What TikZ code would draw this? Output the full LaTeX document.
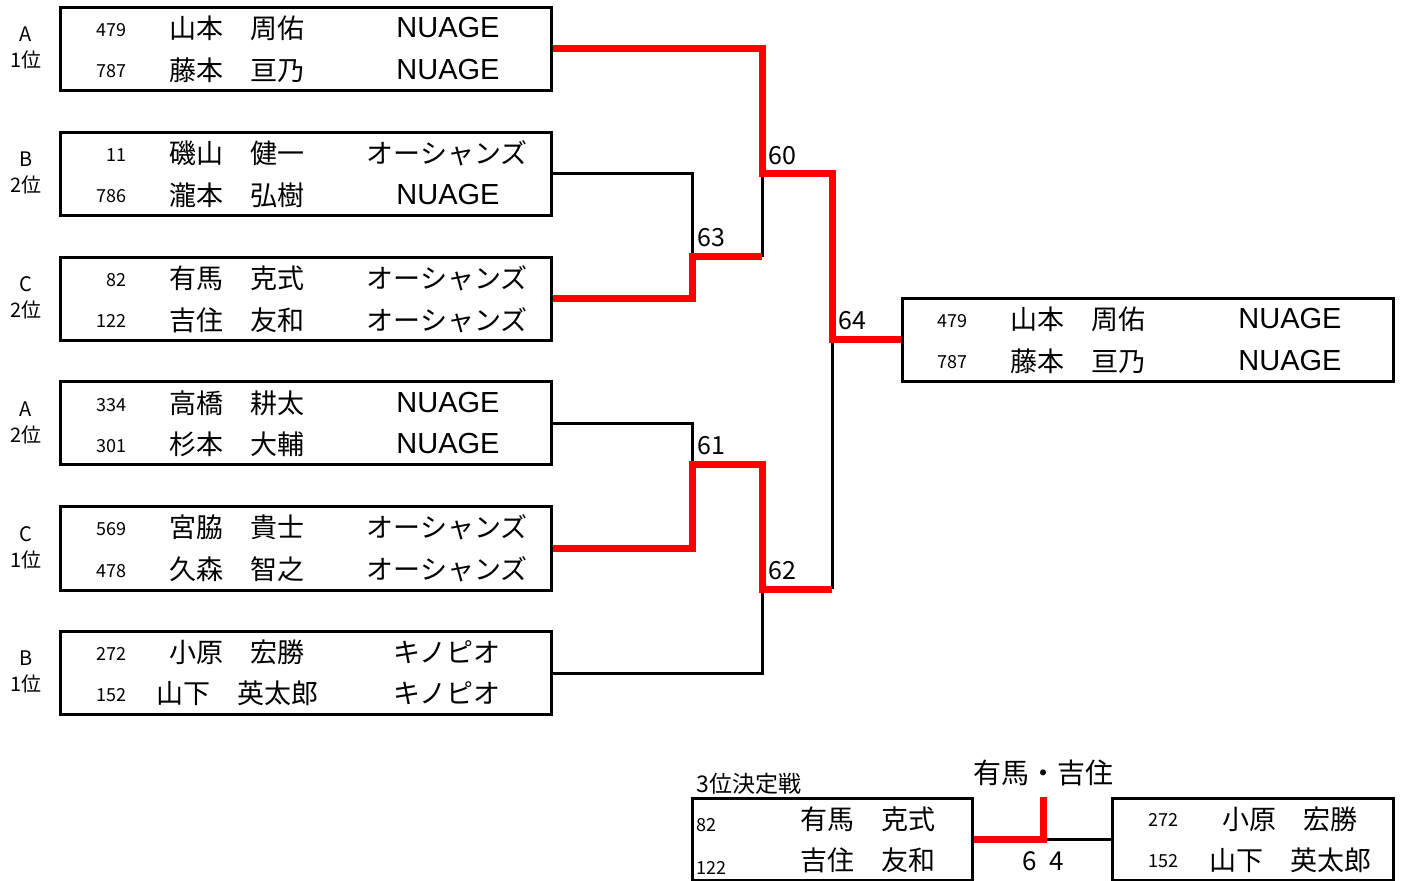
\documentclass[tikz,border=0pt]{standalone}
\usepackage{fontspec}
\setmainfont{Noto Sans CJK JP}
\newfontfamily\latinfont{Liberation Sans}
\usetikzlibrary{positioning}

\begin{document}
\begin{tikzpicture}[x=0.5pt,y=-0.5pt,
  pbox/.style={draw,line width=1.5pt,minimum width=245.5pt,minimum height=41.5pt,inner sep=0pt},
  sbox/.style={draw,line width=1.5pt,minimum width=140pt,minimum height=41pt,inner sep=0pt},
  num/.style={font=\fontsize{9}{9}\selectfont,inner sep=0pt,anchor=east},
  who/.style={font=\fontsize{13.5}{13.5}\selectfont,inner sep=0pt},
  team/.style={font=\fontsize{13.5}{13.5}\selectfont,inner sep=0pt},
  nuage/.style={font=\latinfont\fontsize{14.5}{14.5}\selectfont,inner sep=0pt},
  grp/.style={font=\fontsize{10}{13}\selectfont,align=center,inner sep=0pt},
  rnd/.style={font=\fontsize{12.5}{12.5}\selectfont,inner sep=0pt},
  lose/.style={line width=1.5pt},
  win/.style={red,line width=3.5pt}]

\useasboundingbox (0,0) rectangle (1402,881);

%-------------------Left Boxes--------------------%
\node[pbox] (b1) at (305.5,49) {};
\node[pbox] (b2) at (305.5,174) {};
\node[pbox] (b3) at (305.5,299) {};
\node[pbox] (b4) at (305.5,423.5) {};
\node[pbox] (b5) at (305.5,548.5) {};
\node[pbox] (b6) at (305.5,673) {};

\node[grp] (g1) at (26,48) {A\\1位};
\node[grp] (g2) at (26,173) {B\\2位};
\node[grp] (g3) at (26,298) {C\\2位};
\node[grp] (g4) at (26,423) {A\\2位};
\node[grp] (g5) at (26,548) {C\\1位};
\node[grp] (g6) at (26,672) {B\\1位};
%----------------------b1-----------------%
\node[num] (n1a) at (127,30) {479};
\node[who] (p1a) at (237,28) {山本　周佑};
\node[nuage] (t1a) at (448,28) {NUAGE};
\node[num] (n1b) at (127,71) {787};
\node[who] (p1b) at (237,70) {藤本　亘乃};
\node[nuage] (t1b) at (448,70) {NUAGE};
%----------------------b2-----------------%
\node[num] (n2a) at (127,155) {11};
\node[who] (p2a) at (237,153) {磯山　健一};
\node[team] (t2a) at (447,153) {オーシャンズ};
\node[num] (n2b) at (127,196) {786};
\node[who] (p2b) at (237,195) {瀧本　弘樹};
\node[nuage] (t2b) at (448,195) {NUAGE};
%----------------------b3-----------------%
\node[num] (n3a) at (127,280) {82};
\node[who] (p3a) at (237,278) {有馬　克式};
\node[team] (t3a) at (447,278) {オーシャンズ};
\node[num] (n3b) at (127,321) {122};
\node[who] (p3b) at (237,320) {吉住　友和};
\node[team] (t3b) at (447,320) {オーシャンズ};
%----------------------b4-----------------%
\node[num] (n4a) at (127,405) {334};
\node[who] (p4a) at (237,403) {高橋　耕太};
\node[nuage] (t4a) at (448,403) {NUAGE};
\node[num] (n4b) at (127,446) {301};
\node[who] (p4b) at (237,444) {杉本　大輔};
\node[nuage] (t4b) at (448,444) {NUAGE};
%----------------------b5-----------------%
\node[num] (n5a) at (127,529) {569};
\node[who] (p5a) at (237,527) {宮脇　貴士};
\node[team] (t5a) at (447,527) {オーシャンズ};
\node[num] (n5b) at (127,571) {478};
\node[who] (p5b) at (237,569) {久森　智之};
\node[team] (t5b) at (447,569) {オーシャンズ};
%----------------------b6-----------------%
\node[num] (n6a) at (127,654) {272};
\node[who] (p6a) at (237,652) {小原　宏勝};
\node[team] (t6a) at (447,652) {キノピオ};
\node[num] (n6b) at (127,695) {152};
\node[who] (p6b) at (237,693) {山下　英太郎};
\node[team] (t6b) at (447,693) {キノピオ};
%----------------------------------------------------%


%-------------------Winner Box--------------------%
\node[pbox] (fin) at (1147.5,340) {};
\node[num] (nfa) at (968,321) {479};
\node[who] (pfa) at (1078,319) {山本　周佑};
\node[nuage] (tfa) at (1290,319) {NUAGE};
\node[num] (nfb) at (968,362) {787};
\node[who] (pfb) at (1078,361) {藤本　亘乃};
\node[nuage] (tfb) at (1290,361) {NUAGE};
%----------------------------------------------------%


%-------------------Rounds--------------------%
\coordinate (m63) at (692,257);
\coordinate (m61) at (692,465);
\coordinate (m60) at (762,174);
\coordinate (m62) at (762,589);
\coordinate (m64) at (832,340);

\draw[lose] (b2.east) -| (m63);
\draw[lose] (m60 |- m63) -- (m60);
\draw[lose] (b4.east) -| (m61);
\draw[lose] (b6.east) -| (m62);
\draw[lose] (m64 |- m62) -- (m64);

\draw[win] (b1.east) -| (m60) -- (m64 |- m60) -- (m64) -- (fin.west);
\draw[win] (b3.east) -| (m63) -- (m60 |- m63);
\draw[win] (b5.east) -| (m61) -- (m62 |- m61) -- (m62) -- (m64 |- m62);

\node[rnd,above right=4.5pt and 3pt of m60] (l60) {60};
\node[rnd,above right=5pt and 2.5pt of m63] (l63) {63};
\node[rnd,above right=5pt and 3pt of m64] (l64) {64};
\node[rnd,above right=5pt and 2.5pt of m61] (l61) {61};
\node[rnd,above right=4.5pt and 3pt of m62] (l62) {62};
%----------------------------------------------------%


%-------------------3rd Place--------------------%
\node[font=\fontsize{11.5}{11.5}\selectfont,inner sep=0pt,anchor=west] (third) at (696,784) {3位決定戦};
\node[sbox] (lb) at (832,839) {};
\node[num,anchor=west] (nla) at (696,825) {82};
\node[who] (pla) at (868,819) {有馬　克式};
\node[num,anchor=west] (nlb) at (696,868) {122};
\node[who] (plb) at (868,860) {吉住　友和};

\node[sbox,minimum width=140.5pt] (rb) at (1252.5,839) {};
\node[num] (nra) at (1179,820) {272};
\node[who] (pra) at (1290,819) {小原　宏勝};
\node[num] (nrb) at (1179,861) {152};
\node[who] (prb) at (1290,860) {山下　英太郎};

\coordinate (m3) at (1043,839);
\draw[lose] (m3) -- (rb.west);
\draw[win] (lb.east) -- (m3) -- (m3 |- lb.north);
\node[font=\fontsize{14}{14}\selectfont,inner sep=0pt] (w3) at (1043,773) {有馬・吉住};
\node[font=\fontsize{13}{13}\selectfont,inner sep=0pt] (s3) at (1043,861) {6\enspace 4};
%----------------------------------------------------%
\end{tikzpicture}
\end{document}
